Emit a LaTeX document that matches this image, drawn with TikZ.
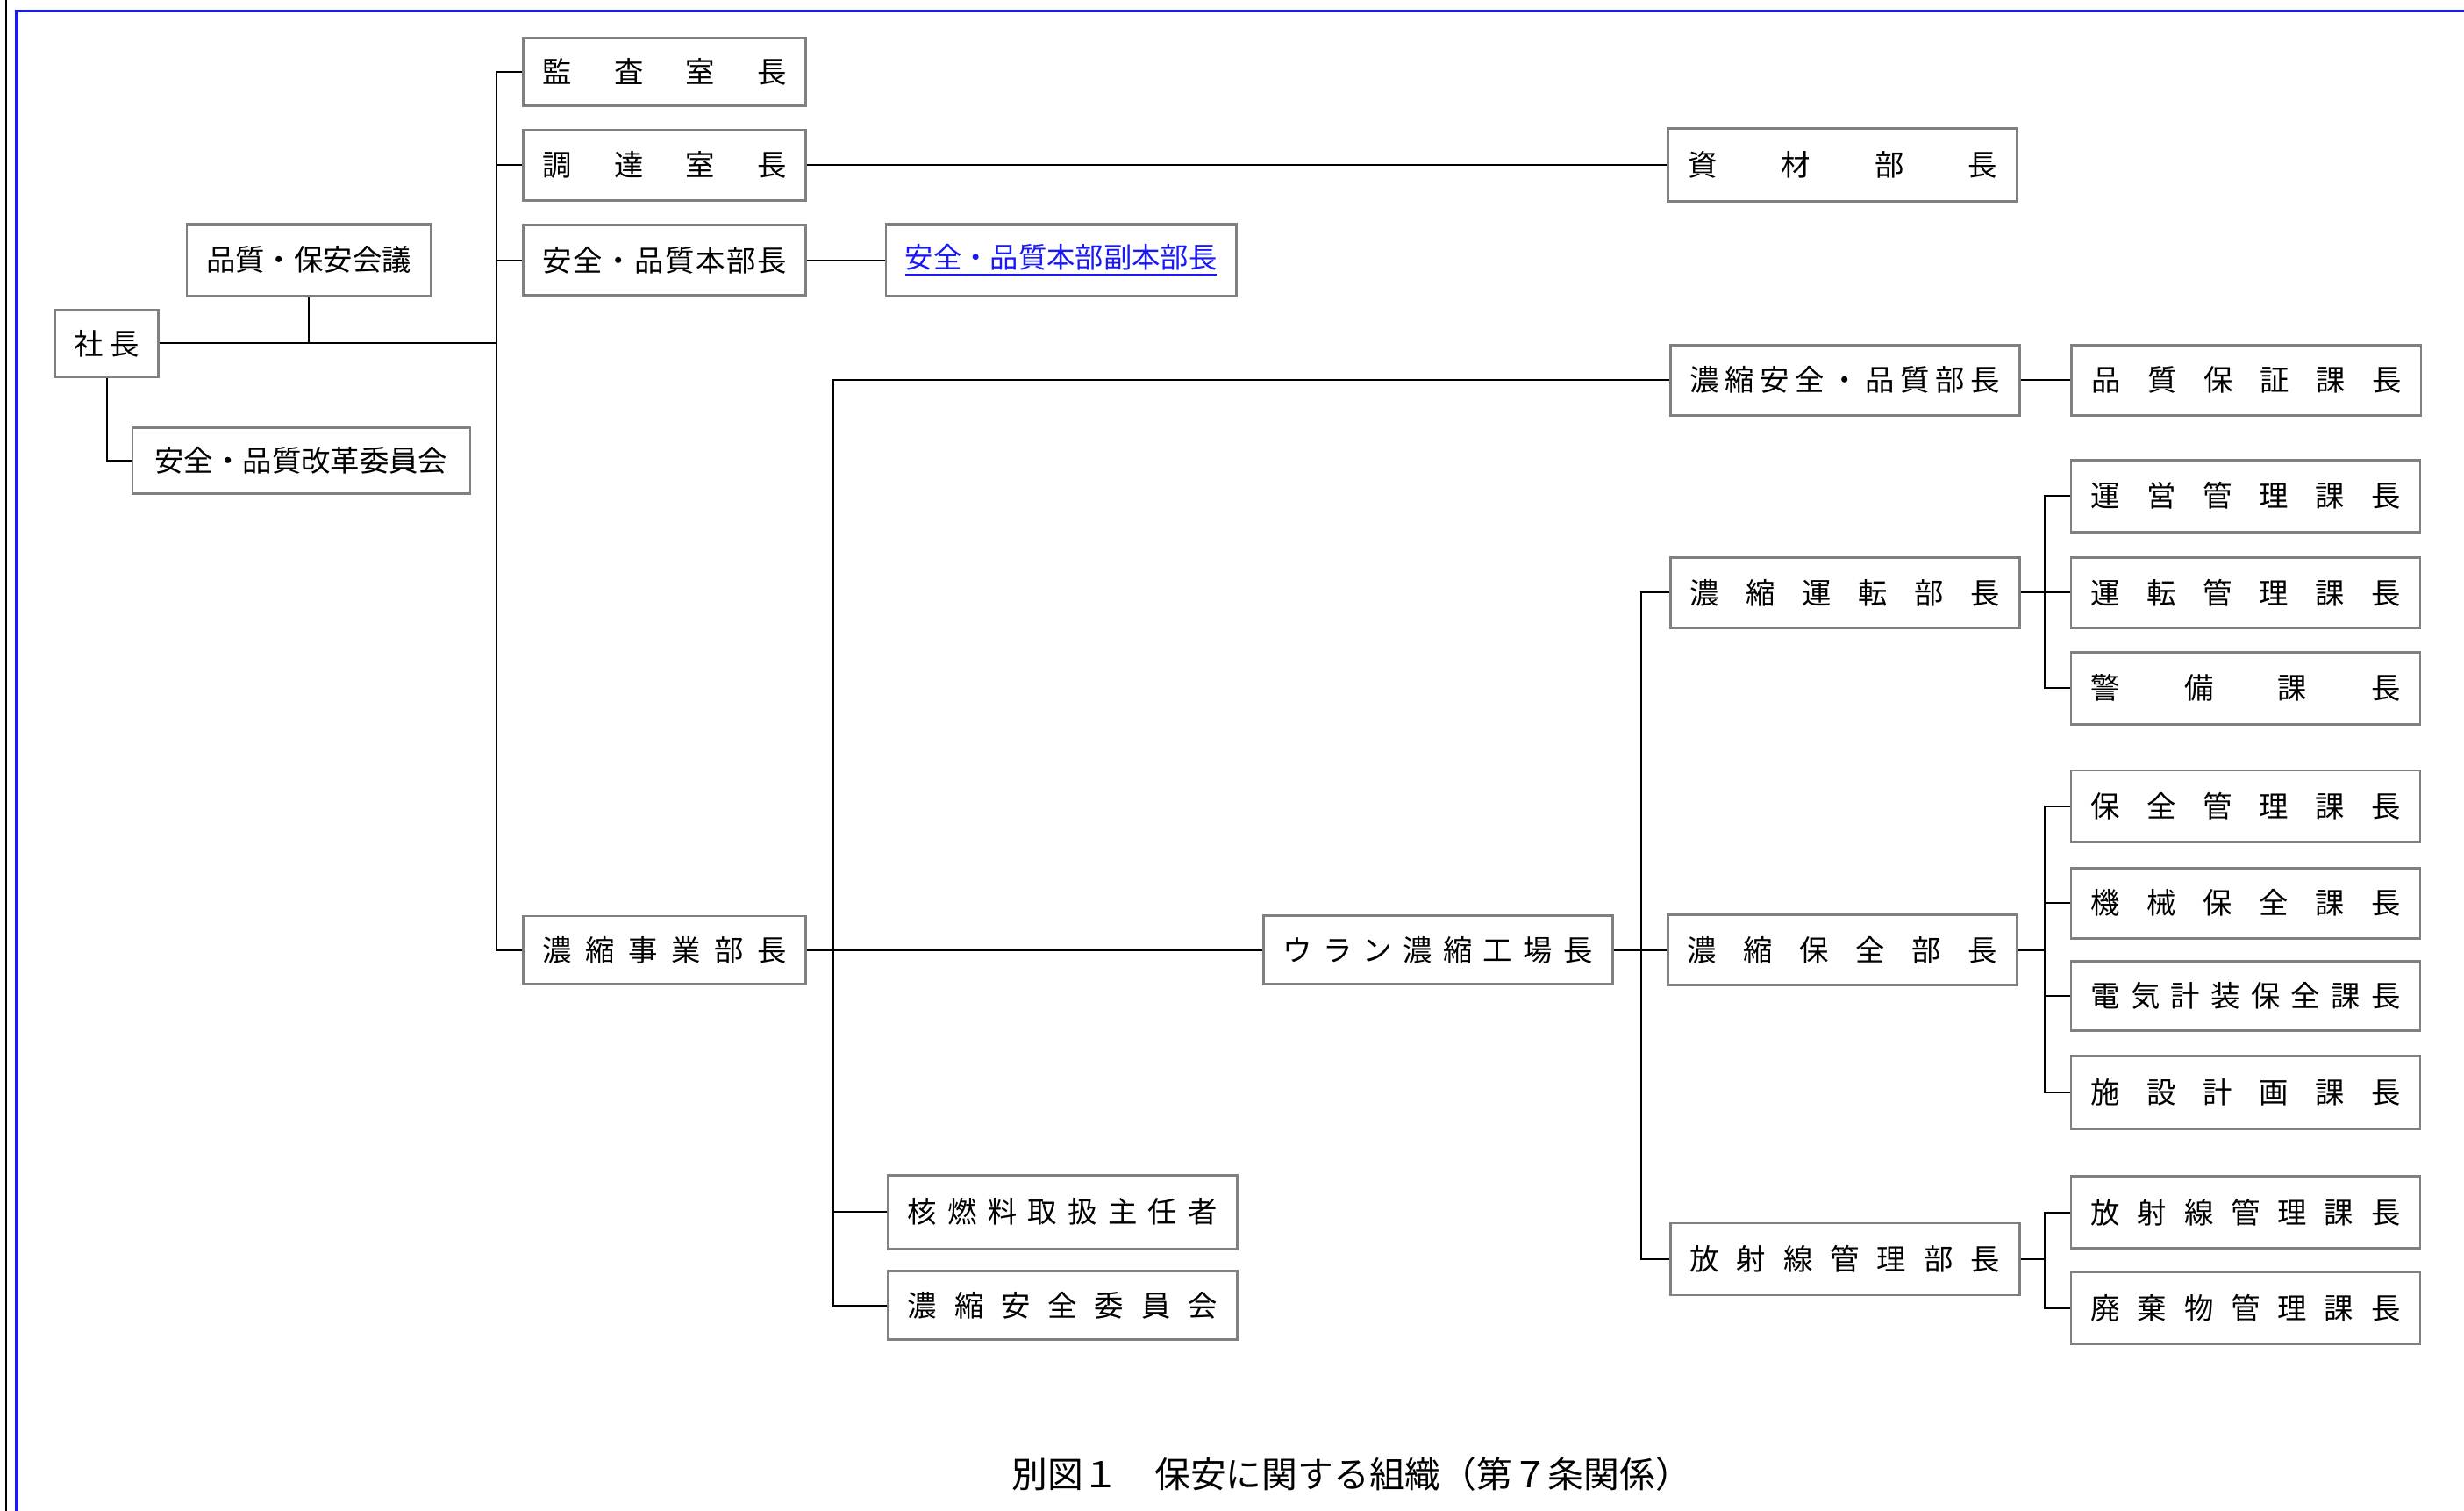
\documentclass[tikz,border=0pt]{standalone}
\usepackage{fontspec}
\setmainfont{Noto Sans CJK JP}
\usepackage{tikz}
\usetikzlibrary{calc}
\usetikzlibrary{positioning}

\definecolor{boxgray}{gray}{0.5}
\definecolor{linkblue}{RGB}{25,25,245}

\makeatletter
\newcommand\spreadout[2]{\makebox[#1][s]{\@tfor\sp@ch:=#2\do{\sp@ch\hfil}\unskip}}
\makeatother
\newcommand\midtext[1]{\spreadout{2.78cm}{#1}}
\newcommand\widetext[1]{\spreadout{3.53cm}{#1}}

\begin{document}
\begin{tikzpicture}[x=0.0179145cm, y=-0.0179145cm,
    every node/.style={font=\fontsize{9.5pt}{11pt}\selectfont},
    postbox/.style={draw=boxgray, line width=0.8pt, fill=white, inner sep=0pt, minimum width=#1, minimum height=0.8cm},
    midbox/.style={postbox=3.22cm},
    widebox/.style={postbox=3.98cm},
    wire/.style={black, line width=0.6pt}]

    \useasboundingbox (0,0) rectangle (1568,961.2);

    % Draw the page frame
    \draw[black, line width=0.6pt] (3.7,0) -- (3.7,961.2);
    \draw[linkblue, line width=0.9pt] (10.6,961.2) -- (10.6,7) -- (1568,7);

    % Trunk positions
    \coordinate (t1) at (316,0);
    \coordinate (t2) at (530.5,0);
    \coordinate (t3) at (1044.5,0);
    \coordinate (t4) at (1301,0);

    % Draw the boxes round the president
    \node[postbox=1.18cm, minimum height=0.77cm] (shachou) at (68,218.5) {\spreadout{0.75cm}{社長}};
    \node[postbox=2.78cm, minimum height=0.82cm] (kaigi) at (196.5,165.3) {品質・保安会議};
    \node[postbox=3.85cm, minimum height=0.75cm] (kaikaku) at (191.7,293) {安全・品質改革委員会};

    % Draw the boxes of the second column
    \node[midbox, minimum height=0.77cm] (kansa) at (423,45.8) {\midtext{監査室長}};
    \node[midbox] (choutatsu) at (423,105) {\midtext{調達室長}};
    \node[midbox] (honbu) at (423,165.7) {\midtext{安全・品質本部長}};
    \node[midbox, minimum height=0.77cm] (jigyo) at (423,604.3) {\midtext{濃縮事業部長}};

    \node[postbox=3.99cm, minimum height=0.82cm] (fuku) at (675.2,165.7) {\color{linkblue}\underline{\fontsize{9.2pt}{11pt}\selectfont 安全・品質本部副本部長}};
    \node[widebox, minimum height=0.84cm] (kakunen) at (676.2,771) {\widetext{核燃料取扱主任者}};
    \node[widebox, minimum height=0.78cm] (iinkai) at (676.2,830.5) {\widetext{濃縮安全委員会}};
    \node[widebox, minimum height=0.78cm] (kojo) at (915,604.3) {\widetext{ウラン濃縮工場長}};

    % Draw the boxes of the departments
    \node[widebox, minimum height=0.83cm] (shizai) at (1172.6,105) {\widetext{資材部長}};
    \node[widebox] (anzen) at (1174,241.8) {\widetext{濃縮安全・品質部長}};
    \node[widebox] (unten) at (1174,377) {\widetext{濃縮運転部長}};
    \node[widebox] (hozen) at (1172.3,604.3) {\widetext{濃縮保全部長}};
    \node[widebox, minimum height=0.82cm] (hoshasen) at (1174,801) {\widetext{放射線管理部長}};

    % Draw the boxes of the sections
    \node[widebox] (hosho) at (1429.5,241.8) {\widetext{品質保証課長}};
    \node[widebox, minimum height=0.82cm] (unei) at (1429,315.5) {\widetext{運営管理課長}};
    \node[widebox] (untenkanri) at (1429,377) {\widetext{運転管理課長}};
    \node[widebox, minimum height=0.82cm] (keibi) at (1429,437.8) {\widetext{警備課長}};
    \node[widebox, minimum height=0.82cm] (hozenkanri) at (1429,513) {\widetext{保全管理課長}};
    \node[widebox] (kikai) at (1429,574.5) {\widetext{機械保全課長}};
    \node[widebox, minimum height=0.79cm] (denki) at (1429,633.5) {\widetext{電気計装保全課長}};
    \node[widebox, minimum height=0.83cm] (shisetsu) at (1429,695) {\widetext{施設計画課長}};
    \node[widebox, minimum height=0.82cm] (hoshakanri) at (1429,771.3) {\widetext{放射線管理課長}};
    \node[widebox, minimum height=0.82cm] (haiki) at (1429,832) {\widetext{廃棄物管理課長}};

    % Draw the lines from the president
    \draw[wire] (shachou.east) -- (shachou.east -| t1);
    \draw[wire] (kaigi.south) -- (kaigi.south |- shachou.east);
    \draw[wire] (shachou.south) |- (kaikaku.west);

    % Draw the main trunk and its branches
    \draw[wire] (kansa.west) -- (kansa.west -| t1) |- (jigyo.west);
    \draw[wire] (choutatsu.west) -- (choutatsu.west -| t1);
    \draw[wire] (honbu.west) -- (honbu.west -| t1);
    \draw[wire] (choutatsu.east) -- (shizai.west);
    \draw[wire] (honbu.east) -- (fuku.west);
    \draw[wire] (jigyo.east) -- (kojo.west);

    % Draw the trunk under the business head
    \draw[wire] (anzen.west) -- (anzen.west -| t2) |- (iinkai.west);
    \draw[wire] (kakunen.west) -- (kakunen.west -| t2);
    \draw[wire] (anzen.east) -- (hosho.west);

    % Draw the trunk under the plant head
    \draw[wire] (unten.west) -- (unten.west -| t3) |- (hoshasen.west);
    \draw[wire] (kojo.east) -- (hozen.west);

    % Draw the lines to the sections
    \draw[wire] (unten.east) -- (unten.east -| t4);
    \draw[wire] (unei.west) -- (unei.west -| t4) |- (keibi.west);
    \draw[wire] (untenkanri.west) -- (untenkanri.west -| t4);

    \draw[wire] (hozen.east) -- (hozen.east -| t4);
    \draw[wire] (hozenkanri.west) -- (hozenkanri.west -| t4) |- (shisetsu.west);
    \draw[wire] (kikai.west) -- (kikai.west -| t4);
    \draw[wire] (denki.west) -- (denki.west -| t4);

    \draw[wire] (hoshasen.east) -- (hoshasen.east -| t4);
    \draw[wire] (hoshakanri.west) -- (hoshakanri.west -| t4) |- (haiki.west);

    % Caption
    \node[font=\fontsize{11.6pt}{13pt}\selectfont] (caption) at (860,938) {別図１　保安に関する組織（第７条関係）};

\end{tikzpicture}
\end{document}
